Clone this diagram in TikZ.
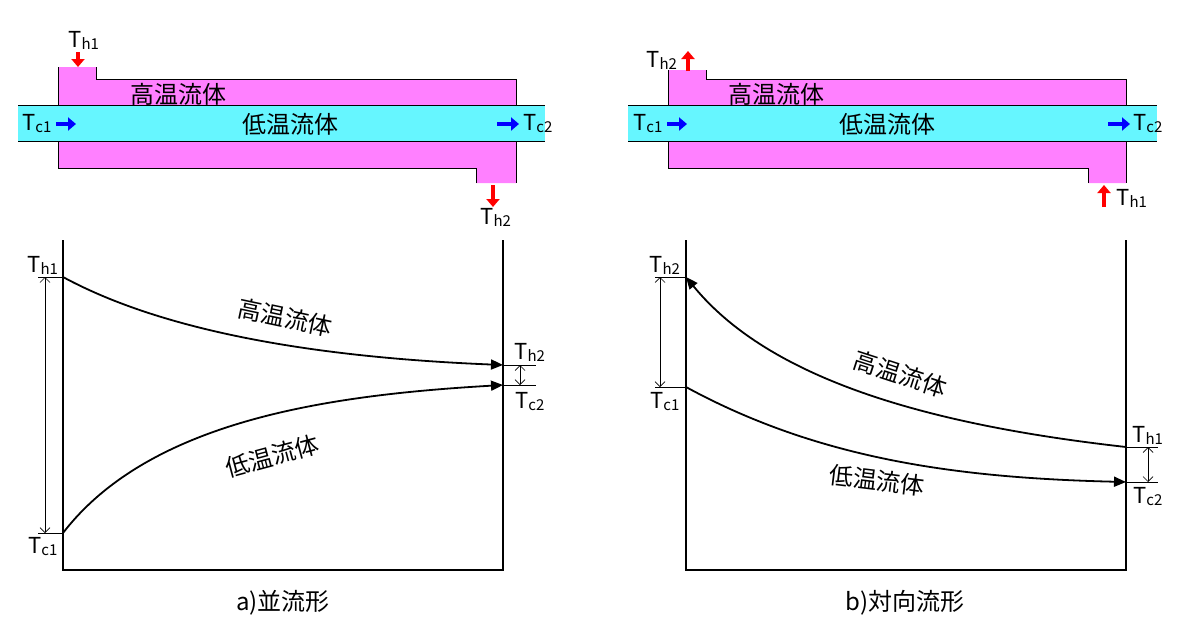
\documentclass[tikz,border=0pt]{standalone}
\usepackage{fontspec}
\setmainfont{Noto Sans CJK JP}
\usetikzlibrary{arrows.meta}
\definecolor{hot}{RGB}{255,128,255}
\definecolor{cold}{RGB}{102,246,255}
\newcommand{\Tl}[1]{T\kern-0.5pt\raisebox{-2pt}{\fontsize{15}{15}\selectfont #1}}
\tikzset{lab/.style={font=\fontsize{22}{22}\selectfont, inner sep=0pt},
 jp/.style={font=\fontsize{24}{24}\selectfont, inner sep=0pt},
 red arr/.style={red, line width=3.5pt, -{Triangle[length=8pt,width=13pt]}},
 blue arr/.style={blue, line width=4.5pt, -{Triangle[length=8pt,width=13pt]}},
 curve/.style={line width=1.8pt, -{Triangle[length=12pt,width=10pt]}},
 dim/.style={line width=0.7pt, {Straight Barb[length=5pt]}-{Straight Barb[length=5pt]}},
 tick/.style={line width=0.7pt},
 ax/.style={line width=1.8pt}}
\begin{document}
\begin{tikzpicture}[x=1pt,y=-1pt]
\useasboundingbox (0,0) rectangle (1200,630);
% ===== left exchanger
\fill[hot] (58,67) -- (96,67) -- (96,79) -- (516,79) -- (516,183) -- (476,183) -- (476,168) -- (58,168) -- cycle;
\draw[line width=1pt] (58,67) -- (58,168) -- (476,168) -- (476,183);
\draw[line width=1pt] (96,67) -- (96,79) -- (516,79) -- (516,183);
\fill[cold] (18,105) rectangle (545,141);
\draw[line width=1pt] (18,105) -- (545,105) (18,141) -- (545,141);
\node[jp] (a1) at (178,94) {高温流体};
\node[jp] (a2) at (290,124) {低温流体};
\node[lab] (ath1) at (84,40) {\Tl{h1}};
\coordinate (ar1s) at (78,52); \coordinate (ar1e) at (78,67);
\draw[red arr] (ar1s) -- (ar1e);
\node[lab] (atc1) at (37,124) {\Tl{c1}};
\coordinate (ab1s) at (56,124); \coordinate (ab1e) at (76,124);
\draw[blue arr] (ab1s) -- (ab1e);
\coordinate (ab2s) at (497,124); \coordinate (ab2e) at (519,124);
\draw[blue arr] (ab2s) -- (ab2e);
\node[lab] (atc2) at (538,124) {\Tl{c2}};
\coordinate (ar2s) at (493,185); \coordinate (ar2e) at (493,207);
\draw[red arr] (ar2s) -- (ar2e);
\node[lab] (ath2) at (496,217) {\Tl{h2}};
% ===== right exchanger
\fill[hot] (668,70) -- (706,70) -- (706,79) -- (1126,79) -- (1126,183) -- (1088,183) -- (1088,168) -- (668,168) -- cycle;
\draw[line width=1pt] (668,70) -- (668,168) -- (1088,168) -- (1088,183);
\draw[line width=1pt] (706,70) -- (706,79) -- (1126,79) -- (1126,183);
\fill[cold] (628,105) rectangle (1157,141);
\draw[line width=1pt] (628,105) -- (1157,105) (628,141) -- (1157,141);
\node[jp] (b1) at (776,94) {高温流体};
\node[jp] (b2) at (887,124) {低温流体};
\node[lab] (bth2) at (662,60) {\Tl{h2}};
\coordinate (br1s) at (688,71); \coordinate (br1e) at (688,51);
\draw[red arr] (br1s) -- (br1e);
\node[lab] (btc1) at (648,124) {\Tl{c1}};
\coordinate (bb1s) at (667,124); \coordinate (bb1e) at (687,124);
\draw[blue arr] (bb1s) -- (bb1e);
\coordinate (bb2s) at (1108,124); \coordinate (bb2e) at (1130,124);
\draw[blue arr] (bb2s) -- (bb2e);
\node[lab] (btc2) at (1148,124) {\Tl{c2}};
\coordinate (br2s) at (1104,207); \coordinate (br2e) at (1104,185);
\draw[red arr] (br2s) -- (br2e);
\node[lab] (bth1) at (1132,198) {\Tl{h1}};
% ===== left graph
\draw[ax] (63,240) -- (63,570) -- (503,570) -- (503,240);
\coordinate (lh1) at (63,277); \coordinate (lc1) at (63,533);
\coordinate (lh2) at (503,365); \coordinate (lc2) at (503,385);
\draw[tick] (38,277) -- (lh1); \draw[tick] (38,533) -- (lc1);
\draw[tick] (lh2) -- (536,365); \draw[tick] (lc2) -- (536,385);
\draw[dim] (45,277) -- (45,533);
\draw[dim] (520,365) -- (520,385);
\draw[curve] (lh1) .. controls (170,335) and (330,358) .. (lh2);
\draw[curve] (lc1) .. controls (150,420) and (330,395) .. (lc2);
\node[lab] (gth1) at (43,265) {\Tl{h1}};
\node[lab] (gtc1) at (43,547) {\Tl{c1}};
\node[lab] (gth2) at (530,352) {\Tl{h2}};
\node[lab] (gtc2) at (530,402) {\Tl{c2}};
\node[jp, rotate=-12] (g1) at (285,318) {高温流体};
\node[jp, rotate=15] (g2) at (272,456) {低温流体};
\node[jp] (ca) at (283,603) {a)並流形};
% ===== right graph
\draw[ax] (686,240) -- (686,570) -- (1126,570) -- (1126,240);
\coordinate (rh2) at (686,277); \coordinate (rc1) at (686,387);
\coordinate (rh1) at (1126,447); \coordinate (rc2) at (1126,482);
\draw[tick] (655,277) -- (rh2); \draw[tick] (655,387) -- (rc1);
\draw[tick] (rh1) -- (1158,447); \draw[tick] (rc2) -- (1158,482);
\draw[dim] (660,277) -- (660,387);
\draw[dim] (1148,447) -- (1148,482);
\draw[curve] (rh1) .. controls (930,425) and (770,380) .. (rh2);
\draw[curve] (rc1) .. controls (820,460) and (960,478) .. (rc2);
\node[lab] (hth2) at (665,265) {\Tl{h2}};
\node[lab] (htc1) at (665,402) {\Tl{c1}};
\node[lab] (hth1) at (1148,435) {\Tl{h1}};
\node[lab] (htc2) at (1148,497) {\Tl{c2}};
\node[jp, rotate=-18] (h1) at (900,374) {高温流体};
\node[jp, rotate=-7] (h2) at (877,480) {低温流体};
\node[jp] (cb) at (905,603) {b)対向流形};
\end{tikzpicture}
\end{document}
